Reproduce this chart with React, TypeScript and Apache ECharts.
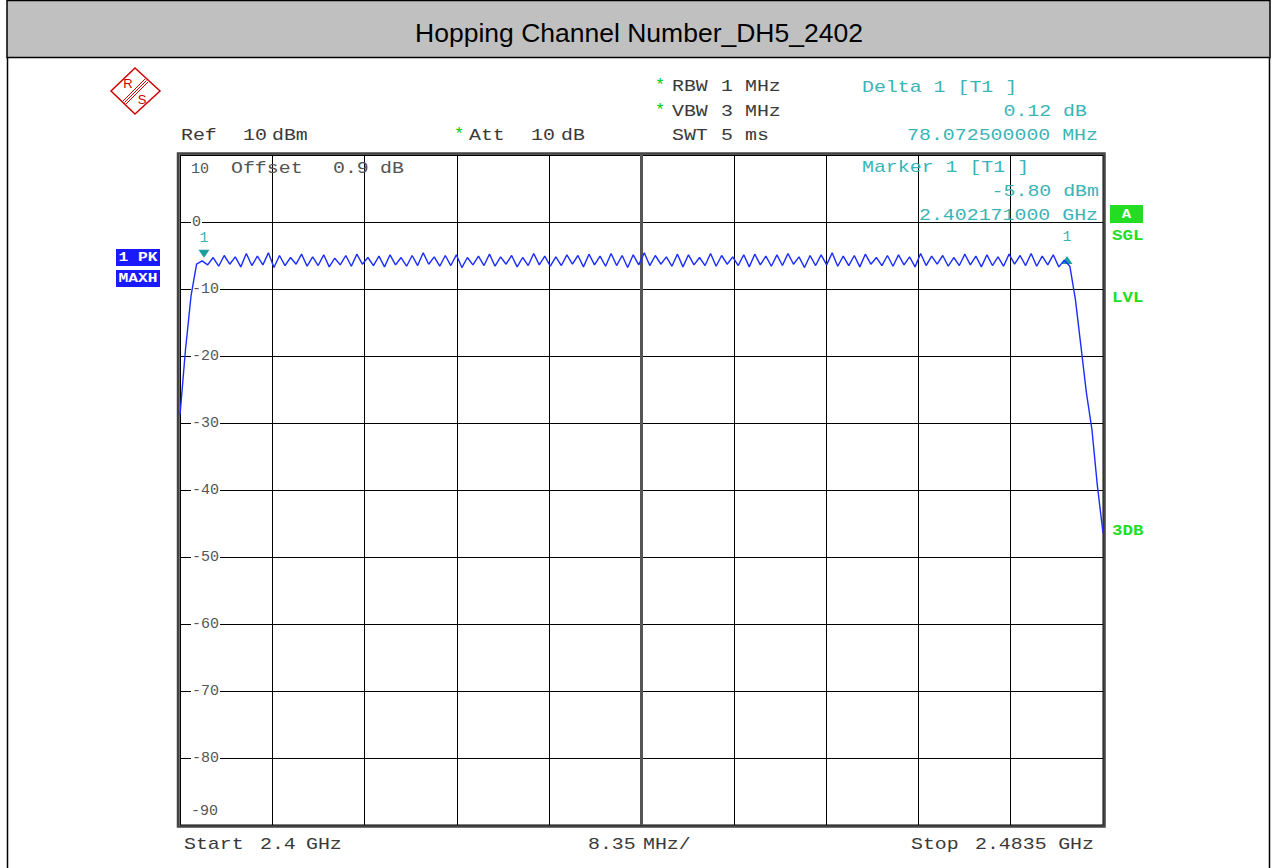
import React, { useEffect, useRef } from "react";
import * as echarts from "echarts";

// ---------- data ----------
const TITLE = "Hopping Channel Number_DH5_2402";
const SPAN_MHZ = 83.5; // 2.4 GHz .. 2.4835 GHz
const DIV_MHZ = 8.35;
const SWEEP_STEP_MHZ = 0.5;
const Y_MIN = -90;
const Y_MAX = 10;
const Y_STEP = 10;

// trace (dBm), on a 0.5 MHz sweep grid from 2.4 GHz
const RISE_LEVELS = [-28.8, -19.0, -11.0, -6.3];
const CHANNEL_PEAKS = [
  -5.8, -5.3, -5.0, -5.2, -4.7, -5.1, -4.6, -5.0, -5.3, -4.8,
  -5.2, -4.9, -5.4, -5.0, -4.8, -5.3, -5.1, -4.9, -5.3, -5.0,
  -4.6, -5.2, -5.0, -4.9, -5.3, -5.1, -4.8, -5.2, -5.0, -5.3,
  -4.7, -5.1, -5.2, -4.9, -5.0, -4.8, -5.1, -4.7, -5.0, -4.9,
  -4.6, -5.0, -5.2, -4.8, -4.9, -5.3, -4.7, -5.0, -5.2, -4.9,
  -4.8, -5.1, -4.9, -4.7, -5.2, -5.0, -4.9, -4.6, -5.1, -5.0,
  -4.8, -5.3, -5.0, -4.9, -5.2, -4.7, -5.1, -5.0, -5.3, -4.8,
  -5.1, -4.9, -5.2, -4.8, -5.0, -4.7, -5.1, -4.9, -5.7,
];
const CHANNEL_TROUGHS = [
  -6.4, -6.6, -6.3, -6.7, -6.5, -6.4, -6.8, -6.5, -6.3, -6.6,
  -6.5, -6.7, -6.4, -6.6, -6.3, -6.5, -6.7, -6.4, -6.6, -6.5,
  -6.3, -6.6, -6.5, -6.8, -6.4, -6.5, -6.6, -6.3, -6.7, -6.5,
  -6.4, -6.6, -6.5, -6.3, -6.7, -6.4, -6.6, -6.5, -6.8, -6.4,
  -6.5, -6.3, -6.6, -6.7, -6.4, -6.5, -6.6, -6.3, -6.5, -6.7,
  -6.4, -6.6, -6.5, -6.3, -6.8, -6.5, -6.4, -6.6, -6.5, -6.7,
  -6.3, -6.5, -6.6, -6.4, -6.7, -6.5, -6.3, -6.6, -6.5, -6.4,
  -6.7, -6.5, -6.6, -6.3, -6.5, -6.6, -6.4, -6.7,
];
const FALL_LEVELS = [-6.6, -11.5, -18.5, -25.5, -31.0, -39.5, -46.4];

// markers: [MHz from start, dBm]
const MARKER1: [number, number] = [2.171, -5.8];
const DELTA1: [number, number] = [80.2435, -5.68];

// ---------- styles ----------
const MONO = '"Liberation Mono", "Courier New", monospace';
const GRAY = "#3a3a3a";
const TEAL = "#3ab5b5";
const GREEN = "#22dd22";
const BLUE = "#1a1aff";
const TRACE = "#1a2cff";

function buildTrace(): [number, number][] {
  const levels: number[] = [...RISE_LEVELS];
  CHANNEL_PEAKS.forEach((p, i) => {
    levels.push(p);
    if (i < CHANNEL_TROUGHS.length) levels.push(CHANNEL_TROUGHS[i]);
  });
  levels.push(...FALL_LEVELS);
  return levels.map((v, i) => [i * SWEEP_STEP_MHZ, v]);
}

function mono(
  text: string,
  x: number,
  y: number,
  fill: string,
  align: string = "left",
  extra: any = {}
) {
  return {
    type: "text",
    x,
    y,
    scaleX: extra.scaleX ?? 1.17,
    z: 50,
    style: {
      text,
      fill,
      fontFamily: MONO,
      fontSize: extra.fontSize ?? 17,
      fontWeight: extra.fontWeight ?? "normal",
      textAlign: align,
      textVerticalAlign: "middle",
    },
  };
}

export default function App() {
  const ref = useRef<HTMLDivElement>(null);

  useEffect(() => {
    if (!ref.current) return;
    const chart = echarts.init(ref.current, undefined, { renderer: "svg" });

    const labelBase = { fontFamily: MONO, fontSize: 15, color: "#555" };

    const graphic: any[] = [
      // title bar
      {
        type: "rect",
        shape: { x: 7, y: 0.5, width: 1263, height: 57 },
        style: { fill: "#c0c0c0", stroke: "#000", lineWidth: 1.5 },
        z: 1,
      },
      {
        type: "text",
        x: 639,
        y: 33,
        z: 5,
        style: {
          text: TITLE,
          fill: "#000",
          fontFamily: '"Liberation Sans", Arial, sans-serif',
          fontSize: 26.5,
          textAlign: "center",
          textVerticalAlign: "middle",
        },
      },
      { type: "line", shape: { x1: 7.5, y1: 57, x2: 7.5, y2: 868 }, style: { stroke: "#000", lineWidth: 1.5 }, z: 1 },
      { type: "line", shape: { x1: 1269.5, y1: 57, x2: 1269.5, y2: 868 }, style: { stroke: "#000", lineWidth: 1.5 }, z: 1 },

      // R&S logo
      {
        type: "polygon",
        shape: { points: [[135, 68], [160, 91], [135, 114], [111, 91]] },
        style: { fill: "none", stroke: "#d00000", lineWidth: 1.5 },
        z: 5,
      },
      { type: "line", shape: { x1: 123, y1: 101, x2: 145, y2: 79 }, style: { stroke: "#d00000", lineWidth: 1 }, z: 5 },
      { type: "line", shape: { x1: 124.5, y1: 102.5, x2: 146.5, y2: 80.5 }, style: { stroke: "#d00000", lineWidth: 1 }, z: 5 },
      { type: "line", shape: { x1: 126, y1: 104, x2: 148, y2: 82 }, style: { stroke: "#d00000", lineWidth: 1 }, z: 5 },
      {
        type: "text", x: 128, y: 83, z: 5,
        style: { text: "R", fill: "#d00000", fontFamily: '"Liberation Sans", sans-serif', fontSize: 13, textAlign: "center", textVerticalAlign: "middle" },
      },
      {
        type: "text", x: 142, y: 99, z: 5,
        style: { text: "S", fill: "#d00000", fontFamily: '"Liberation Sans", sans-serif', fontSize: 13, textAlign: "center", textVerticalAlign: "middle" },
      },

      // settings header
      mono("*", 660, 85, "#00cc00", "center", { scaleX: 1 }),
      mono("RBW", 672, 87, GRAY),
      mono("1", 721, 87, GRAY),
      mono("MHz", 745, 87, GRAY),
      mono("*", 660, 110, "#00cc00", "center", { scaleX: 1 }),
      mono("VBW", 672, 112, GRAY),
      mono("3", 721, 112, GRAY),
      mono("MHz", 745, 112, GRAY),
      mono("SWT", 672, 136, GRAY),
      mono("5", 721, 136, GRAY),
      mono("ms", 745, 136, GRAY),
      mono("Ref", 181, 136, GRAY),
      mono("10", 243, 136, GRAY),
      mono("dBm", 272, 136, GRAY),
      mono("*", 459, 134, "#00cc00", "center", { scaleX: 1 }),
      mono("Att", 469, 136, GRAY),
      mono("10", 531, 136, GRAY),
      mono("dB", 561, 136, GRAY),

      // marker readouts
      mono("Delta 1 [T1 ]", 862, 88, TEAL),
      mono("0.12 dB", 1087, 112, TEAL, "right"),
      mono("78.072500000 MHz", 1098, 136, TEAL, "right"),
      mono("Marker 1 [T1 ]", 862, 168, TEAL),
      mono("-5.80 dBm", 1099, 192, TEAL, "right"),
      mono("2.402171000 GHz", 1098, 216, TEAL, "right"),

      // inside-plot header
      mono("Offset", 231, 169, "#555"),
      mono("0.9", 333, 169, "#555"),
      mono("dB", 380, 169, "#555"),

      // bottom labels
      mono("Start", 184, 845, GRAY),
      mono("2.4", 260, 845, GRAY),
      mono("GHz", 306, 845, GRAY),
      mono("8.35", 588, 845, GRAY),
      mono("MHz/", 643, 845, GRAY),
      mono("Stop", 911, 845, GRAY),
      mono("2.4835", 975, 845, GRAY),
      mono("GHz", 1094, 845, GRAY, "right"),

      // trace info boxes (left)
      { type: "rect", shape: { x: 116, y: 249, width: 44, height: 17 }, style: { fill: BLUE }, z: 5 },
      mono("1 PK", 138, 257.5, "#fff", "center", { fontSize: 13, fontWeight: "bold", scaleX: 1.25 }),
      { type: "rect", shape: { x: 116, y: 270, width: 44, height: 17 }, style: { fill: BLUE }, z: 5 },
      mono("MAXH", 138, 278.5, "#fff", "center", { fontSize: 13, fontWeight: "bold", scaleX: 1.25 }),

      // right status
      { type: "rect", shape: { x: 1110, y: 205, width: 33, height: 18 }, style: { fill: GREEN }, z: 5 },
      mono("A", 1126.5, 214, "#fff", "center", { fontSize: 13, fontWeight: "bold", scaleX: 1.2 }),
      mono("SGL", 1112, 236, GREEN, "left", { fontSize: 14, fontWeight: "bold", scaleX: 1.25 }),
      mono("LVL", 1112, 298, GREEN, "left", { fontSize: 14, fontWeight: "bold", scaleX: 1.25 }),
      mono("3DB", 1112, 531, GREEN, "left", { fontSize: 14, fontWeight: "bold", scaleX: 1.25 }),

      // outer double frame of the diagram
      {
        type: "rect",
        shape: { x: 178, y: 153.5, width: 926.5, height: 673 },
        style: { fill: "none", stroke: "#444", lineWidth: 2.5 },
        z: 40,
      },
    ];

    const option: any = {
      animation: false,
      backgroundColor: "#fff",
      grid: {
        left: 180,
        top: 155,
        width: 923,
        height: 670,
        show: true,
        borderColor: "#000",
        borderWidth: 1,
        backgroundColor: "#fff",
      },
      xAxis: {
        type: "value",
        min: 0,
        max: SPAN_MHZ,
        interval: DIV_MHZ,
        axisLine: { show: false },
        axisTick: { show: false },
        axisLabel: { show: false },
        splitLine: { show: true, lineStyle: { color: "#000", width: 1 } },
      },
      yAxis: {
        type: "value",
        min: Y_MIN,
        max: Y_MAX,
        interval: Y_STEP,
        axisLine: { show: false },
        axisTick: { show: false },
        axisLabel: {
          inside: true,
          margin: 11,
          formatter: (v: number) => {
            if (v === Y_MAX) return `{t|${v}}`;
            if (v === Y_MIN) return `{b|${v}}`;
            return `{n|${v}}`;
          },
          rich: {
            n: { ...labelBase, backgroundColor: "#fff", padding: [0, 1] },
            t: { ...labelBase, padding: [28, 0, 0, 0] },
            b: { ...labelBase, padding: [0, 0, 28, 0] },
          },
        },
        splitLine: { show: true, lineStyle: { color: "#000", width: 1 } },
      },
      series: [
        {
          type: "line",
          data: buildTrace(),
          symbol: "none",
          lineStyle: { color: TRACE, width: 1.4 },
          z: 10,
          markLine: {
            silent: true,
            symbol: "none",
            label: { show: false },
            lineStyle: { color: "#555", width: 3, type: "solid" },
            data: [{ xAxis: SPAN_MHZ / 2 }],
            z: 3,
          },
          markPoint: {
            silent: true,
            data: [
              {
                coord: MARKER1,
                symbol: "triangle",
                symbolRotate: 180,
                symbolSize: [11, 8],
                symbolOffset: [0, -7],
                itemStyle: { color: "#1a9e9e" },
                label: {
                  show: true,
                  formatter: "1",
                  position: "top",
                  distance: 4,
                  color: TEAL,
                  fontFamily: MONO,
                  fontSize: 15,
                },
              },
              {
                coord: DELTA1,
                symbol: "triangle",
                symbolSize: [11, 8],
                symbolOffset: [0, 0],
                itemStyle: { color: "#1a9e9e" },
                label: {
                  show: true,
                  formatter: "1",
                  position: "top",
                  distance: 11,
                  color: TEAL,
                  fontFamily: MONO,
                  fontSize: 15,
                },
              },
            ],
          },
        },
      ],
      graphic,
    };

    chart.setOption(option);
    return () => chart.dispose();
  }, []);

  return (
    <div
      ref={ref}
      style={{ position: "absolute", left: 0, top: 0, width: 1276, height: 868 }}
    />
  );
}
